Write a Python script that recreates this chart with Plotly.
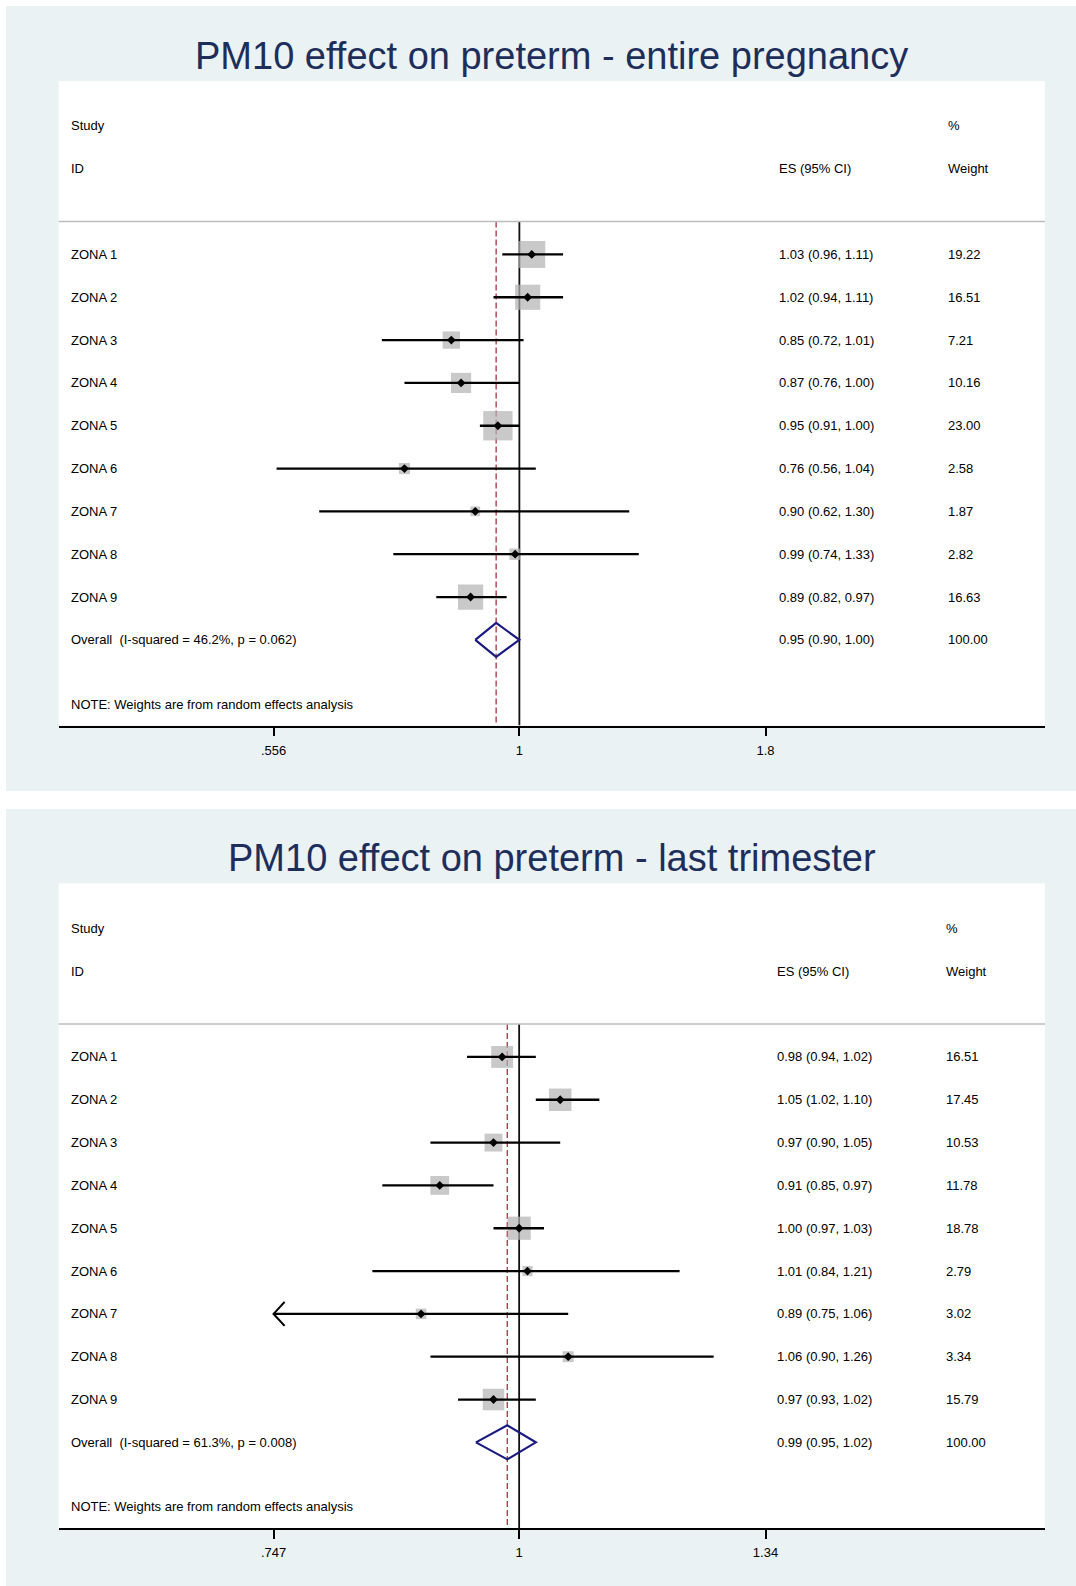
import math
import plotly.graph_objects as go

# ---------------------------------------------------------------- data
zones = ["ZONA 1", "ZONA 2", "ZONA 3", "ZONA 4", "ZONA 5",
         "ZONA 6", "ZONA 7", "ZONA 8", "ZONA 9"]

# PM10 over the entire pregnancy
preg_es = [1.03, 1.02, 0.85, 0.87, 0.95, 0.76, 0.90, 0.99, 0.89]
preg_lo = [0.96, 0.94, 0.72, 0.76, 0.91, 0.56, 0.62, 0.74, 0.82]
preg_hi = [1.11, 1.11, 1.01, 1.00, 1.00, 1.04, 1.30, 1.33, 0.97]
preg_wt = [19.22, 16.51, 7.21, 10.16, 23.00, 2.58, 1.87, 2.82, 16.63]
preg_overall = [0.946, 0.90, 1.00]          # ES, lower, upper
preg_i2, preg_p = 46.2, 0.062
preg_tickvals = [0.556, 1, 1.8]
preg_ticktext = [".556", "1", "1.8"]

# PM10 over the last trimester
tri_es = [0.98, 1.05, 0.97, 0.91, 1.00, 1.01, 0.89, 1.06, 0.97]
tri_lo = [0.94, 1.02, 0.90, 0.85, 0.97, 0.84, 0.746, 0.90, 0.93]
tri_hi = [1.02, 1.10, 1.05, 0.97, 1.03, 1.21, 1.06, 1.26, 1.02]
tri_wt = [16.51, 17.45, 10.53, 11.78, 18.78, 2.79, 3.02, 3.34, 15.79]
tri_overall = [0.986, 0.95, 1.02]
tri_i2, tri_p = 61.3, 0.008
tri_tickvals = [0.747, 1, 1.34]
tri_ticktext = [".747", "1", "1.34"]

titles = ["PM10 effect on preterm - entire pregnancy",
          "PM10 effect on preterm - last trimester"]
note_text = "NOTE: Weights are from random effects analysis"

# ---------------------------------------------------------------- layout
W, H = 1076, 1586
FONT = "Liberation Sans, Arial, Helvetica, sans-serif"
BG = "#EAF2F3"
TITLE_COLOR = "#1E2E5B"
BOX_COLOR = "#B2B2B2"
DIAMOND_COLOR = "#1A1A80"
OVERALL_LINE = "#A8333F"
INK = "#000000"

INNER_X = (58.7, 1045.0)      # white plot region, pixels
FOREST_X = (273.6, 765.5)     # first and last tick, pixels
ROW_RANGE = [12.0, -3.05]     # rows: ZONA k at k, overall at 10
HEADER_ROW = 0.23
LABEL_X = 68.5

panels = [
    dict(es=preg_es, lo=preg_lo, hi=preg_hi, wt=preg_wt, ov=preg_overall,
         i2=preg_i2, p=preg_p, tv=preg_tickvals, tt=preg_ticktext,
         outer=(6, 791), inner=(81, 725.5), title_y=55.6,
         es_x=777.0, wt_x=945.5, box_a=5.7),
    dict(es=tri_es, lo=tri_lo, hi=tri_hi, wt=tri_wt, ov=tri_overall,
         i2=tri_i2, p=tri_p, tv=tri_tickvals, tt=tri_ticktext,
         outer=(809, 1586), inner=(883.5, 1528), title_y=857.6,
         es_x=774.8, wt_x=943.6, box_a=4.9),
]

fig = go.Figure()
shapes, annotations = [], []
layout_axes = {}


def px_x(px):
    return px / W


def px_y(px):
    return 1 - px / H


for i, pn in enumerate(panels):
    sfx = "" if i == 0 else str(i + 1)
    xa, ya = "x" + sfx, "y" + sfx
    tmin, tmax = min(pn["tv"]), max(pn["tv"])
    l0, l1 = math.log10(tmin), math.log10(tmax)
    span = FOREST_X[1] - FOREST_X[0]
    xr = [l0 + (INNER_X[0] - FOREST_X[0]) / span * (l1 - l0),
          l0 + (INNER_X[1] - FOREST_X[0]) / span * (l1 - l0)]
    px_per_ln = span / math.log(tmax / tmin)
    row_px = (pn["inner"][1] - pn["inner"][0]) / (ROW_RANGE[0] - ROW_RANGE[1])

    layout_axes["xaxis" + sfx] = dict(
        domain=[px_x(INNER_X[0]), px_x(INNER_X[1])], type="log", range=xr,
        anchor=ya, showline=True, linecolor=INK, linewidth=1.6,
        ticks="outside", ticklen=9, tickwidth=1.6, tickcolor=INK,
        tickmode="array", tickvals=pn["tv"], ticktext=pn["tt"],
        tickfont=dict(family=FONT, size=13, color=INK),
        ticklabelstandoff=3,
        showgrid=False, zeroline=False, fixedrange=True)
    layout_axes["yaxis" + sfx] = dict(
        domain=[px_y(pn["inner"][1]), px_y(pn["inner"][0])],
        range=ROW_RANGE, anchor=xa, visible=False, fixedrange=True)

    # panel backgrounds
    shapes.append(dict(type="rect", xref="paper", yref="paper",
                       x0=px_x(6), x1=1.0, y0=px_y(pn["outer"][1]),
                       y1=px_y(pn["outer"][0]), fillcolor=BG,
                       line=dict(width=0), layer="below"))
    shapes.append(dict(type="rect", xref="paper", yref="paper",
                       x0=px_x(INNER_X[0]), x1=px_x(INNER_X[1]),
                       y0=px_y(pn["inner"][1]), y1=px_y(pn["inner"][0]),
                       fillcolor="white", line=dict(width=0), layer="below"))
    # rule under the column headers
    shapes.append(dict(type="line", xref=xa + " domain", yref=ya,
                       x0=0, x1=1, y0=HEADER_ROW, y1=HEADER_ROW,
                       line=dict(color="#BDBDBD", width=1.6)))

    rows = list(range(1, len(zones) + 1))
    overall_row = len(zones) + 1
    es_ov, lo_ov, hi_ov = pn["ov"]

    # null line and overall-effect line
    fig.add_trace(go.Scatter(x=[1, 1], y=[HEADER_ROW, ROW_RANGE[0]],
                             mode="lines", line=dict(color="#111", width=1.8),
                             xaxis=xa, yaxis=ya, hoverinfo="skip"))
    fig.add_trace(go.Scatter(x=[es_ov, es_ov], y=[HEADER_ROW, ROW_RANGE[0]],
                             mode="lines",
                             line=dict(color=OVERALL_LINE, width=1.3,
                                       dash="6px,3px"),
                             xaxis=xa, yaxis=ya, hoverinfo="skip"))

    # weight boxes
    sizes = [pn["box_a"] * math.sqrt(w) + 2 for w in pn["wt"]]
    fig.add_trace(go.Scatter(x=pn["es"], y=rows, mode="markers",
                             marker=dict(symbol="square", size=sizes,
                                         color=BOX_COLOR, line=dict(width=0)),
                             xaxis=xa, yaxis=ya, hoverinfo="skip"))

    # confidence intervals, clipped to the tick range with an arrow
    cx, cy = [], []
    ax_x, ax_y = [], []
    arm_x = math.exp(11 / px_per_ln)
    arm_y = 12 / row_px
    for r, lo, hi in zip(rows, pn["lo"], pn["hi"]):
        lo_c, hi_c = max(lo, tmin), min(hi, tmax)
        cx += [lo_c, hi_c, None]
        cy += [r, r, None]
        if lo < tmin:
            ax_x += [tmin * arm_x, tmin, tmin * arm_x, None]
            ax_y += [r - arm_y, r, r + arm_y, None]
        if hi > tmax:
            ax_x += [tmax / arm_x, tmax, tmax / arm_x, None]
            ax_y += [r - arm_y, r, r + arm_y, None]
    fig.add_trace(go.Scatter(x=cx, y=cy, mode="lines",
                             line=dict(color=INK, width=2.3),
                             xaxis=xa, yaxis=ya, hoverinfo="skip"))
    if ax_x:
        fig.add_trace(go.Scatter(x=ax_x, y=ax_y, mode="lines",
                                 line=dict(color=INK, width=2.1),
                                 xaxis=xa, yaxis=ya, hoverinfo="skip"))

    # point estimates
    fig.add_trace(go.Scatter(x=pn["es"], y=rows, mode="markers",
                             marker=dict(symbol="diamond", size=6.8,
                                         color=INK, line=dict(width=0)),
                             xaxis=xa, yaxis=ya, hoverinfo="skip"))

    # pooled estimate diamond
    hh = 17 / row_px
    fig.add_trace(go.Scatter(
        x=[lo_ov, es_ov, hi_ov, es_ov, lo_ov],
        y=[overall_row, overall_row - hh, overall_row, overall_row + hh,
           overall_row],
        mode="lines", line=dict(color=DIAMOND_COLOR, width=2.2),
        xaxis=xa, yaxis=ya, hoverinfo="skip"))

    # text columns
    def txt(x_px, row, text, size=13, color=INK):
        annotations.append(dict(x=px_x(x_px), xref="paper", y=row, yref=ya,
                                text=text, showarrow=False, xanchor="left",
                                yanchor="middle",
                                font=dict(family=FONT, size=size,
                                          color=color)))

    txt(LABEL_X, -2, "Study")
    txt(LABEL_X, -1, "ID")
    txt(pn["es_x"], -1, "ES (95% CI)")
    txt(pn["wt_x"], -2, "%")
    txt(pn["wt_x"], -1, "Weight")
    for r, name, es, lo, hi, w in zip(rows, zones, pn["es"], pn["lo"],
                                      pn["hi"], pn["wt"]):
        txt(LABEL_X, r, name)
        txt(pn["es_x"], r, f"{es:.2f} ({lo:.2f}, {hi:.2f})")
        txt(pn["wt_x"], r, f"{w:.2f}")
    txt(LABEL_X, overall_row,
        f"Overall\u00a0 (I-squared = {pn['i2']:.1f}%, p = {pn['p']:.3f})")
    txt(pn["es_x"], overall_row,
        f"{es_ov:.2f} ({lo_ov:.2f}, {hi_ov:.2f})")
    txt(pn["wt_x"], overall_row, f"{100:.2f}")
    txt(LABEL_X, 11.5, note_text)

    annotations.append(dict(
        x=px_x((INNER_X[0] + INNER_X[1]) / 2), xref="paper",
        y=px_y(pn["title_y"]), yref="paper", text=titles[i],
        showarrow=False, xanchor="center", yanchor="middle",
        font=dict(family=FONT, size=38, color=TITLE_COLOR)))

fig.update_layout(
    width=W, height=H, margin=dict(l=0, r=0, t=0, b=0),
    paper_bgcolor="white", plot_bgcolor="rgba(0,0,0,0)",
    showlegend=False, shapes=shapes, annotations=annotations,
    **layout_axes)

fig.write_html("out.html")
